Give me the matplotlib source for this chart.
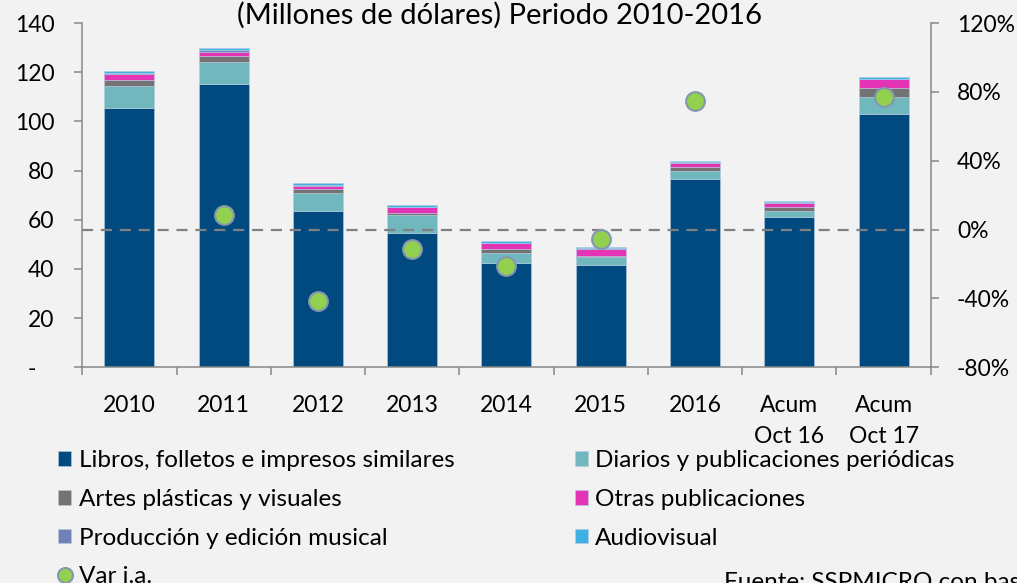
import numpy as np
import matplotlib
matplotlib.use("Agg")
import matplotlib.pyplot as plt

plt.rcParams['font.family'] = ['Lato', 'DejaVu Sans']

categories = ['2010', '2011', '2012', '2013', '2014', '2015', '2016',
              'Acum\nOct 16', 'Acum\nOct 17']
libros = [105.6, 115.3, 63.4, 54.5, 42.4, 41.6, 76.5, 61.0, 103.1]
diarios = [8.9, 9.0, 7.5, 7.4, 4.1, 3.3, 3.3, 2.6, 6.7]
artes = [2.5, 2.4, 1.5, 0.7, 1.5, 0.2, 1.5, 1.5, 3.9]
otras = [2.3, 1.6, 1.5, 2.5, 2.4, 3.0, 1.7, 1.6, 3.4]
musical = [0.3, 0.7, 0.3, 0.2, 0.3, 0.6, 0.6, 0.6, 0.3]
audiovisual = [0.8, 0.9, 0.7, 0.7, 0.8, 0.2, 0.2, 0.2, 0.7]
var_ia = [np.nan, 0.085, -0.413, -0.111, -0.213, -0.053, 0.747, np.nan, 0.769]

series = [
    ('Libros, folletos e impresos similares', libros, '#004A80'),
    ('Diarios y publicaciones periódicas', diarios, '#71B7BE'),
    ('Artes plásticas y visuales', artes, '#737373'),
    ('Otras publicaciones', otras, '#E433B4'),
    ('Producción y edición musical', musical, '#7080B8'),
    ('Audiovisual', audiovisual, '#40B0E4'),
]

BG = '#F2F2F2'
SPINE = '#888888'
TICKFS = 16.5
fig = plt.figure(figsize=(10.17, 5.83), dpi=100, facecolor=BG)
ax = fig.add_axes([0.0809, 0.370, 0.8342, 0.5905])
ax.set_facecolor(BG)
x = np.arange(len(categories))
bottom = np.zeros(len(categories))
handles = {}
for name, vals, col in series:
    v = np.array(vals)
    b = ax.bar(x, v, 0.53, bottom=bottom, color=col, edgecolor='#B8CCE0',
               linewidth=0.4, label=name, zorder=2)
    handles[name] = b
    bottom += v

ax.set_xlim(-0.5, len(categories) - 0.5)
ax.set_ylim(0, 140)
ax.set_yticks(np.arange(0, 141, 20))
ax.set_yticklabels(['-   '] + [str(v) for v in range(20, 141, 20)])
ax.set_xticks(x)
ax.set_xticklabels(categories, linespacing=1.6, va='top')
ax.set_xticks(np.arange(-0.5, len(categories), 1), minor=True)
ax.tick_params(axis='x', which='major', length=0, pad=20, labelsize=TICKFS)
ax.tick_params(axis='x', which='minor', length=6, width=1.1, color=SPINE)
ax.tick_params(axis='y', length=6, width=1.1, color=SPINE, pad=14, labelsize=TICKFS)
for s in ['top', 'right']:
    ax.spines[s].set_visible(False)
for s in ['left', 'bottom']:
    ax.spines[s].set_color(SPINE)
    ax.spines[s].set_linewidth(1.1)

ax2 = ax.twinx()
ax2.set_ylim(-0.8, 1.2)
ax2.set_yticks(np.arange(-0.8, 1.21, 0.4))
ax2.set_yticklabels([f'{int(round(v*100))}%' for v in np.arange(-0.8, 1.21, 0.4)])
ax2.tick_params(axis='y', length=6, width=1.1, color=SPINE, pad=13, labelsize=TICKFS)
for s in ['top', 'left', 'bottom']:
    ax2.spines[s].set_visible(False)
ax2.spines['right'].set_color(SPINE)
ax2.spines['right'].set_linewidth(1.1)
ax2.axhline(0, color='#808080', lw=1.6, ls=(0, (5, 3.5)), zorder=3)
dots, = ax2.plot(x, var_ia, ls='none', marker='o', markersize=13.5,
                 markerfacecolor='#92D050', markeredgecolor='#8497B0',
                 markeredgewidth=1.5, zorder=5, label='Var i.a.')

fig.text(0.491, 0.973, '(Millones de dólares) Periodo 2010-2016',
         ha='center', va='center', fontsize=21)

order = ['Libros, folletos e impresos similares', 'Artes plásticas y visuales',
         'Producción y edición musical']
h = [handles[n] for n in order] + [dots] + \
    [handles[n] for n in ['Diarios y publicaciones periódicas',
                          'Otras publicaciones', 'Audiovisual']]
labels = order + ['Var i.a.', 'Diarios y publicaciones periódicas',
                  'Otras publicaciones', 'Audiovisual']
leg = fig.legend(h, labels, ncol=2, loc='upper left',
                 bbox_to_anchor=(0.057, 0.228), frameon=False, fontsize=17.5,
                 handlelength=0.55, handleheight=0.55, handletextpad=0.3,
                 labelspacing=0.73, columnspacing=4.95, borderaxespad=0,
                 borderpad=0, markerscale=0.8)
fig.text(0.712, 0.001, 'Fuente: SSPMICRO con base en INDEC',
         ha='left', va='center', fontsize=17.5)

fig.savefig('out.png', dpi=100, facecolor=BG)
